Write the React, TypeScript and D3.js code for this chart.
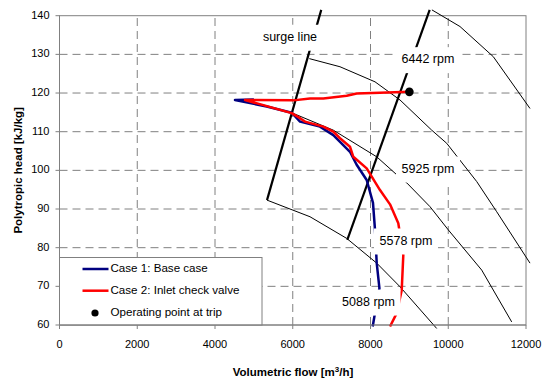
// Compressor map: polytropic head vs volumetric flow
import React from 'react';
import * as d3 from 'd3';

type Pt = [number, number]; // [flow m3/h, head kJ/kg]

const xTicks = [0, 2000, 4000, 6000, 8000, 10000, 12000];
const yTicks = [60, 70, 80, 90, 100, 110, 120, 130, 140];

// speed curves (thin black)
const speedTop: Pt[] = [[9580, 141.5], [10302, 137.2], [11159, 129.4], [12103, 116.0]];
const speed6442: Pt[] = [[6426, 128.9], [7215, 126.8], [8116, 122.9], [8759, 118.2], [9574, 110.4], [9960, 107.0], [10732, 97.1], [11246, 89.3], [12103, 76.0]];
const speed5925: Pt[] = [[5973, 114.9], [7043, 110.4], [8160, 103.5], [8682, 98.8], [8939, 96.7], [9531, 90.6], [10001, 84.6], [10861, 74.2], [11632, 60.8]];
const speed5088: Pt[] = [[5338, 92.3], [6444, 88.0], [7388, 82.4], [8160, 76.0], [8759, 69.9], [9703, 59.1]];

// surge line + the second thick line
const surgeLine: Pt[] = [[6733, 141.5], [5338, 92.3]];
const controlLine: Pt[] = [[9522, 141.5], [7403, 82.0]];

// Case 1: base case (blue)
const baseCase: Pt[] = [
  [8057, 59.6], [8164, 66.0], [8230, 69.5], [8160, 76.0], [8116, 84.6], [8064, 91.6],
  [7902, 97.5], [7640, 101.5], [7472, 104.8], [7043, 109.1], [6701, 111.3], [6187, 112.6],
  [5973, 114.9], [5330, 116.5], [4514, 118.2], [5000, 118.3],
];

// Case 2: inlet check valve (red)
const checkValve: Pt[] = [
  [9000, 120.3], [8244, 120.1], [7645, 119.9], [7388, 119.3], [6786, 118.6], [6444, 118.6],
  [6014, 118.1], [4772, 118.2], [5973, 114.8], [6187, 113.5], [6316, 112.6], [6786, 111.3],
  [7043, 110.0], [7215, 108.3], [7472, 106.1], [7558, 103.5], [7902, 100.5], [8244, 94.9],
  [8502, 91.2], [8715, 86.3], [8844, 78.1], [8803, 69.0], [8672, 63.0], [8502, 59.6],
];

const tripPoint: Pt = [9000, 120.3];

// labels sit on white boxes which hide the lines behind them
const chartLabels = [
  { text: 'surge line', flow: 5929, head: 134.3 },
  { text: '6442 rpm', flow: 9479, head: 128.5 },
  { text: '5925 rpm', flow: 9479, head: 100.2 },
  { text: '5578 rpm', flow: 8913, head: 81.6 },
  { text: '5088 rpm', flow: 7949, head: 65.8 },
];

const width = 542;
const height = 379;
const marginLeft = 59.5;
const marginRight = 16;
const marginTop = 15.7;
const marginBottom = 54;

const font = '"Liberation Sans", Arial, sans-serif';
const gray = '#808080';

const App: React.FC = () => {
  const x = d3.scaleLinear().domain([0, 12000]).range([marginLeft, width - marginRight]);
  const y = d3.scaleLinear().domain([60, 140]).range([height - marginBottom, marginTop]);
  const line = d3.line<Pt>().x(d => x(d[0])).y(d => y(d[1]));

  const x0 = x(0), x1 = x(12000), y0 = y(60), y1 = y(140);

  return (
    <svg width={width} height={height} style={{ position: 'absolute', left: 0, top: 0 }} fontFamily={font}>
      <rect width={width} height={height} fill="#fff" />
      {/* grid */}
      {yTicks.slice(1, -1).map(t => (
        <line key={'gy' + t} x1={x0} x2={x1} y1={y(t)} y2={y(t)} stroke={gray} strokeDasharray="8,5" />
      ))}
      {xTicks.slice(1, -1).map(t => (
        <line key={'gx' + t} x1={x(t)} x2={x(t)} y1={y0} y2={y1} stroke={gray} strokeDasharray="8,5" />
      ))}
      <rect x={x0} y={y1} width={x1 - x0} height={y0 - y1} fill="none" stroke={gray} />

      {/* speed curves */}
      {[speedTop, speed6442, speed5925, speed5088].map((c, i) => (
        <path key={'s' + i} d={line(c) || ''} fill="none" stroke="#000" strokeWidth={1} />
      ))}
      <path d={line(surgeLine) || ''} fill="none" stroke="#000" strokeWidth={2.2} />
      <path d={line(controlLine) || ''} fill="none" stroke="#000" strokeWidth={2.2} />

      {/* cases */}
      <path d={line(baseCase) || ''} fill="none" stroke="#000080" strokeWidth={2.5} strokeLinejoin="round" />
      <path d={line(checkValve) || ''} fill="none" stroke="#ff0000" strokeWidth={2.5} strokeLinejoin="round" />
      <circle cx={x(tripPoint[0])} cy={y(tripPoint[1])} r={4.3} fill="#000" />

      {/* labels */}
      {chartLabels.map(l => (
        <g key={l.text}>
          <rect x={x(l.flow) - 32} y={y(l.head) - 13} width={64} height={26} fill="#fff" />
          <text x={x(l.flow)} y={y(l.head)} fontSize={12.5} textAnchor="middle" dominantBaseline="middle">{l.text}</text>
        </g>
      ))}

      {/* legend */}
      <rect x={x0} y={257.5} width={202.5} height={y0 - 257.5} fill="#fff" stroke={gray} />
      <line x1={82.5} x2={108.5} y1={269} y2={269} stroke="#000080" strokeWidth={2.5} />
      <line x1={82.5} x2={108.5} y1={290.7} y2={290.7} stroke="#ff0000" strokeWidth={2.5} />
      <circle cx={95} cy={313} r={3.6} fill="#000" />
      <text x={110.5} y={269} fontSize={11.6} dominantBaseline="middle">Case 1: Base case</text>
      <text x={110.5} y={290.7} fontSize={11.6} dominantBaseline="middle">Case 2: Inlet check valve</text>
      <text x={110.5} y={312.5} fontSize={11.6} dominantBaseline="middle">Operating point at trip</text>

      {/* axes */}
      <line x1={x0} x2={x0} y1={y0} y2={y1} stroke={gray} />
      <line x1={x0} x2={x1} y1={y0} y2={y0} stroke={gray} />
      {yTicks.map(t => (
        <g key={'ty' + t}>
          <line x1={x0 - 4} x2={x0} y1={y(t)} y2={y(t)} stroke={gray} />
          <text x={x0 - 10} y={y(t)} fontSize={11} textAnchor="end" dominantBaseline="middle">{t}</text>
        </g>
      ))}
      {xTicks.map(t => (
        <g key={'tx' + t}>
          <line x1={x(t)} x2={x(t)} y1={y0} y2={y0 + 4} stroke={gray} />
          <text x={x(t)} y={348} fontSize={11} textAnchor="middle">{t}</text>
        </g>
      ))}
      <text x={293} y={376} fontSize={11.5} fontWeight="bold" textAnchor="middle">
        Volumetric flow [m<tspan dy={-4} fontSize={8}>3</tspan><tspan dy={4}>/h]</tspan>
      </text>
      <text transform={`translate(22,${(y0 + y1) / 2}) rotate(-90)`} fontSize={11.5} fontWeight="bold" textAnchor="middle">
        Polytropic head [kJ/kg]
      </text>
    </svg>
  );
};

export default App;
